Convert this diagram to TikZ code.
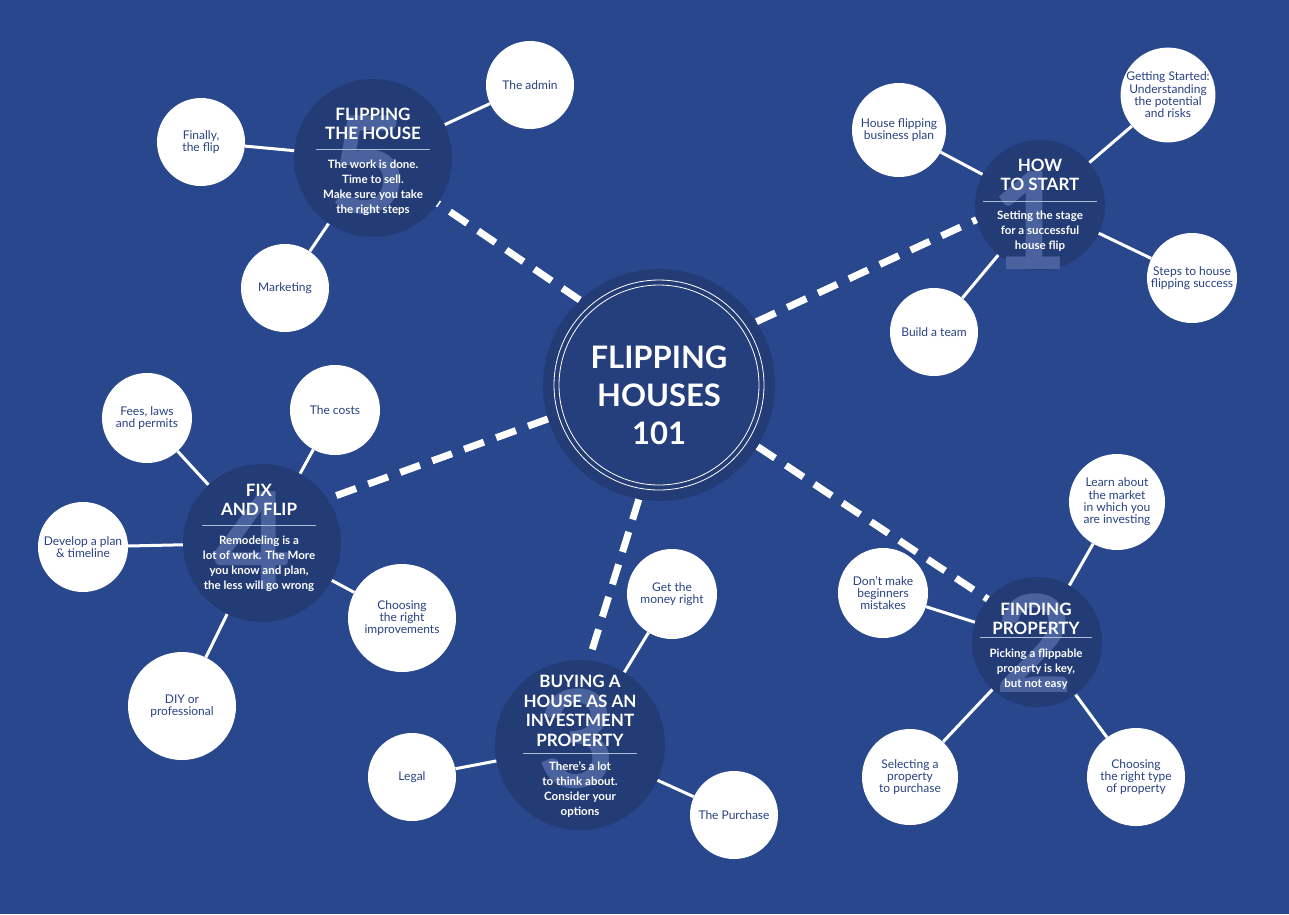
\documentclass[tikz,border=0pt]{standalone}
\usepackage{fontspec}
\setmainfont{Lato}
\usetikzlibrary{positioning}
\definecolor{bgblue}{RGB}{40,71,141}
\definecolor{hubfill}{RGB}{36,60,118}
\definecolor{corefill}{RGB}{37,62,124}
\definecolor{numtint}{RGB}{74,99,158}
\definecolor{sattext}{RGB}{40,66,130}
\definecolor{rulegray}{RGB}{176,188,214}

\begin{document}
\begin{tikzpicture}[
    x=1pt,y=-1pt,
    hub/.style={circle,fill=hubfill,inner sep=0pt,minimum size=#1},
    sat/.style={circle,fill=white,text=sattext,inner sep=0pt,minimum size=#1,
                align=center,font=\fontsize{12}{12.3}\selectfont},
    hubnum/.style={text=numtint,inner sep=0pt,font=\fontsize{135}{135}\selectfont\bfseries},
    hubtitle/.style={text=white,inner sep=0pt,align=center,font=\fontsize{17}{19.5}\selectfont\bfseries},
    hubsub/.style={text=white,inner sep=0pt,align=center,font=\fontsize{11.5}{15}\selectfont\bfseries},
    hubrule/.style={draw=rulegray,line width=0.8pt},
    link/.style={draw=white,line width=3pt},
    spoke/.style={draw=white,line width=7pt,dash pattern=on 21pt off 13pt},
]
\useasboundingbox (0,0) rectangle (1289,914);
\fill[bgblue] (0,0) rectangle (1289,914);

% --- core ---
\node[circle,fill=hubfill,inner sep=0pt,minimum size=232] (core) at (659,385) {};
\fill[corefill] (core) circle[radius=100pt];
\draw[white,line width=0.8pt] (core) circle[radius=105pt];
\draw[white,line width=0.8pt] (core) circle[radius=100pt];
\node[text=white,inner sep=0pt,align=center,font=\fontsize{31}{38}\selectfont\bfseries]
    (coretxt) at (659,395) {FLIPPING\\HOUSES\\101};

% --- hub 1: how to start ---
\node[hub=130] (h1) at (1040,205) {};
\node[hubnum] at (1030,221) {1};
\coordinate (r1) at (1040,201.7);
\draw[hubrule] ([xshift=-57pt]r1) -- ([xshift=57pt]r1);
\node[hubtitle,above=10.7pt of r1] {HOW\\TO START};
\node[hubsub,below=9.3pt of r1] {Setting the stage\\for a successful\\house flip};

% --- hub 2: finding property ---
\node[hub=130] (h2) at (1037,642) {};
\node[hubnum] at (1035,643) {2};
\coordinate (r2) at (1036,637.3);
\draw[hubrule] ([xshift=-56pt]r2) -- ([xshift=56pt]r2);
\node[hubtitle,above=2.3pt of r2] {FINDING\\PROPERTY};
\node[hubsub,below=11pt of r2] {Picking a flippable\\property is key,\\but not easy};

% --- hub 3: buying ---
\node[hub=170] (h3) at (580,745) {};
\node[hubnum] at (577,739) {3};
\coordinate (r3) at (580,753.7);
\draw[hubrule] ([xshift=-57pt]r3) -- ([xshift=57pt]r3);
\node[hubtitle,above=7pt of r3] {BUYING A\\HOUSE AS AN\\INVESTMENT\\PROPERTY};
\node[hubsub,below=8pt of r3] {There’s a lot\\to think about.\\Consider your\\options};

% --- hub 4: fix and flip ---
\node[hub=158] (h4) at (262,543) {};
\node[hubnum] at (253,541) {4};
\coordinate (r4) at (259,525.3);
\draw[hubrule] ([xshift=-57pt]r4) -- ([xshift=57pt]r4);
\node[hubtitle,above=9.5pt of r4] {FIX\\AND FLIP};
\node[hubsub,below=10.7pt of r4] {Remodeling is a\\lot of work. The More\\you know and plan,\\the less will go wrong};

% --- hub 5: flipping the house ---
\node[hub=158] (h5) at (373,158) {};
\node[hubnum] at (369,165) {5};
\coordinate (r5) at (373,149.3);
\draw[hubrule] ([xshift=-57pt]r5) -- ([xshift=57pt]r5);
\node[hubtitle,above=9.3pt of r5] {FLIPPING\\THE HOUSE};
\node[hubsub,below=10pt of r5] {The work is done.\\Time to sell.\\Make sure you take\\the right steps};

% --- satellites ---
\node[sat=94]  (s11) at (899,130)  {House flipping\\business plan};
\node[sat=94]  (s12) at (1168,95)  {Getting Started:\\Understanding\\the potential\\and risks};
\node[sat=90]  (s13) at (1192,278) {Steps to house\\flipping success};
\node[sat=88]  (s14) at (934,332)  {Build a team};

\node[sat=96]  (s21) at (1117,502) {Learn about\\the market\\in which you\\are investing};
\node[sat=90]  (s22) at (883,593)  {Don’t make\\beginners\\mistakes};
\node[sat=96]  (s23) at (910,777)  {Selecting a\\property\\to purchase};
\node[sat=98]  (s24) at (1136,777) {Choosing\\the right type\\of property};

\node[sat=90]  (s31) at (672,594)  {Get the\\money right};
\node[sat=88]  (s32) at (412,777)  {Legal};
\node[sat=88]  (s33) at (734,815)  {The Purchase};

\node[sat=90]  (s41) at (147,418)  {Fees, laws\\and permits};
\node[sat=90]  (s42) at (335,410)  {The costs};
\node[sat=90]  (s43) at (83,547)   {Develop a plan\\\& timeline};
\node[sat=108] (s44) at (402,618)  {Choosing\\the right\\improvements};
\node[sat=108] (s45) at (182,706)  {DIY or\\professional};

\node[sat=88]  (s51) at (530,85)   {The admin};
\node[sat=88]  (s52) at (201,142)  {Finally,\\the flip};
\node[sat=88]  (s53) at (285,288)  {Marketing};

% dashed spokes from the core
\draw[spoke] (core.33) -- (h1.193);
\draw[spoke] (core.-32) -- (h2.139);
\draw[spoke] (core.260) -- (h3.84);
\draw[spoke] (core.197.5) -- (h4.34);
\draw[spoke] (core.133.6) -- (h5.-35);

% solid links hub -> satellite
\foreach \s in {s11,s12,s13,s14} \draw[link] (h1) -- (\s);
\foreach \s in {s21,s22,s23,s24} \draw[link] (h2) -- (\s);
\foreach \s in {s31,s32,s33} \draw[link] (h3) -- (\s);
\foreach \s in {s41,s42,s43,s44,s45} \draw[link] (h4) -- (\s);
\foreach \s in {s51,s52,s53} \draw[link] (h5) -- (\s);
\end{tikzpicture}
\end{document}
